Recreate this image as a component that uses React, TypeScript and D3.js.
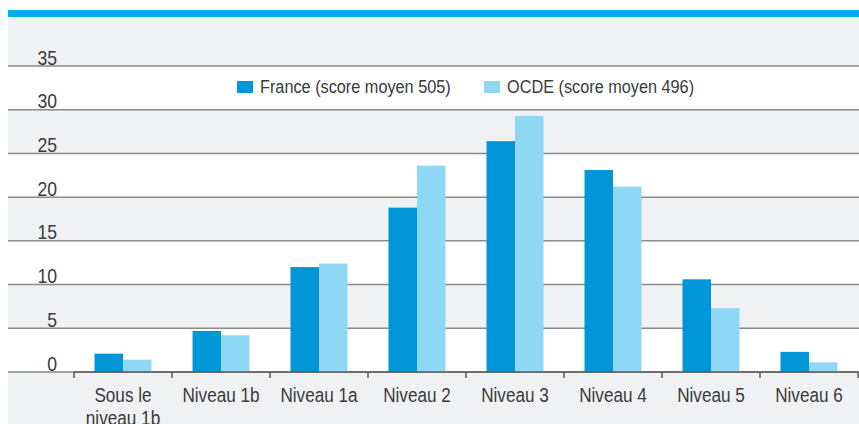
import * as d3 from "d3";

const categories = [
  "Sous le niveau 1b",
  "Niveau 1b",
  "Niveau 1a",
  "Niveau 2",
  "Niveau 3",
  "Niveau 4",
  "Niveau 5",
  "Niveau 6",
];
const france = [2.1, 4.7, 12.0, 18.8, 26.4, 23.1, 10.6, 2.3];
const ocde = [1.4, 4.2, 12.4, 23.6, 29.3, 21.2, 7.3, 1.1];
const seriesKeys = ["France", "OCDE"];
const seriesLabels = ["France (score moyen 505)", "OCDE (score moyen 496)"];
const yTicks = [0, 5, 10, 15, 20, 25, 30, 35];

const W = 859;
const H = 424;
const colors = ["#0096d8", "#8ed7f5"];
const textColor = "#3a3a3a";
const font = "'Liberation Sans', Arial, sans-serif";
const sx = 0.88;

export default function App() {
  const y = d3.scaleLinear().domain([0, 35]).range([372, 66]);
  const x = d3.scaleBand().domain(categories).range([74, 858]).padding(0);
  const x1 = d3
    .scaleBand()
    .domain(seriesKeys)
    .range([0, x.bandwidth()])
    .paddingInner(0)
    .paddingOuter(0.72);
  const values = [france, ocde];

  // white bands between every other pair of gridlines
  const bands = [
    [30, 35],
    [20, 25],
    [10, 15],
    [0, 5],
  ];

  const lines = (label: string) => {
    if (label === "Sous le niveau 1b") return ["Sous le", "niveau 1b"];
    return [label];
  };

  return (
    <svg
      width={W}
      height={H}
      style={{ position: "absolute", left: 0, top: 0, display: "block" }}
      fontFamily={font}
    >
      <rect x={0} y={0} width={W} height={H} fill="#ffffff" />
      <rect x={8} y={17} width={W - 8} height={H - 17} fill="#f0f1f3" />
      <rect x={8} y={10} width={W - 8} height={7} fill="#00aeef" />

      {bands.map(([a, b]) => (
        <rect
          key={a}
          x={8}
          y={y(b)}
          width={W - 8}
          height={y(a) - y(b)}
          fill="#ffffff"
        />
      ))}

      {yTicks.map((t) => (
        <g key={t}>
          <line x1={8} x2={W} y1={y(t)} y2={y(t)} stroke="#8a8a8a" strokeWidth={1.5} />
          <text
            transform={`translate(57,${y(t) - 1.5}) scale(${sx},1)`}
            textAnchor="end"
            fontSize={20}
            fill={textColor}
          >
            {t}
          </text>
        </g>
      ))}

      {categories.map((c, i) => (
        <g key={c} transform={`translate(${x(c)},0)`}>
          {seriesKeys.map((k, j) => (
            <rect
              key={k}
              x={x1(k)}
              y={y(values[j][i])}
              width={x1.bandwidth()}
              height={y(0) - y(values[j][i])}
              fill={colors[j]}
            />
          ))}
        </g>
      ))}

      {/* x axis */}
      <line x1={x.range()[0]} x2={x.range()[1]} y1={y(0)} y2={y(0)} stroke="#5a5a5a" strokeWidth={1.5} />
      {[...categories.map((c) => x(c) as number), x.range()[1]].map((p, i) => (
        <line key={i} x1={p} x2={p} y1={y(0)} y2={y(0) + 6} stroke="#5a5a5a" strokeWidth={1.5} />
      ))}
      {categories.map((c) => (
        <g key={c}>
          {lines(c).map((l, li) => (
            <text
              key={li}
              transform={`translate(${(x(c) as number) + x.bandwidth() / 2},${402 + li * 23}) scale(${sx},1)`}
              textAnchor="middle"
              fontSize={19.5}
              fill={textColor}
            >
              {l}
            </text>
          ))}
        </g>
      ))}

      {/* legend */}
      {seriesLabels.map((l, i) => {
        const lx = i === 0 ? 237 : 484;
        return (
          <g key={l}>
            <rect x={lx} y={81} width={16} height={12} fill={colors[i]} />
            <text
              transform={`translate(${lx + 23},93) scale(${sx},1)`}
              fontSize={18.5}
              fill={textColor}
            >
              {l}
            </text>
          </g>
        );
      })}
    </svg>
  );
}
